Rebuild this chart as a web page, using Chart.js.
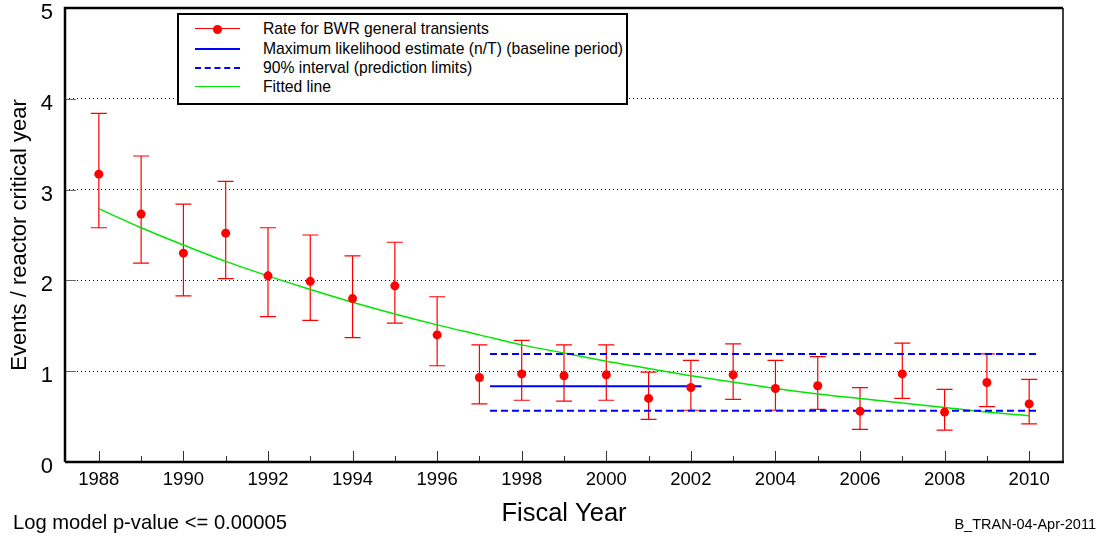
<!DOCTYPE html>
<html>
<head>
<meta charset="utf-8">
<script src="https://cdn.jsdelivr.net/npm/chart.js"></script>
<style>
  body { margin: 0; background: #fff; font-family: "Liberation Sans", Arial, sans-serif; }
  #wrap { position: relative; width: 1101px; height: 537px; }
  #legend { position: absolute; left: 177px; top: 13px; width: 447px; height: 88px; border: 2px solid #000; background: #fff; }
  .row { position: absolute; left: 0; height: 20px; width: 100%; }
  .row .txt { position: absolute; left: 84px; top: 0; line-height: 20px; font-size: 15.7px; color: #000; white-space: nowrap; }
  .row .smp { position: absolute; left: 16px; top: 9px; width: 45px; height: 0; }
  .dot { position: absolute; left: 18px; top: -4.5px; width: 9px; height: 9px; border-radius: 50%; background: #f00; }
  .note { position: absolute; color: #000; white-space: nowrap; }
</style>
</head>
<body>
<div id="wrap">
  <canvas id="myChart"></canvas>
  <div id="legend">
    <div class="row" style="top:4px"><div class="smp" style="border-top:1px solid #f00"><div class="dot"></div></div><div class="txt">Rate for BWR general transients</div></div>
    <div class="row" style="top:23.5px"><div class="smp" style="border-top:2px solid #00f"></div><div class="txt">Maximum likelihood estimate (n/T) (baseline period)</div></div>
    <div class="row" style="top:42.5px"><div class="smp" style="border-top:2px dashed #00f"></div><div class="txt">90% interval (prediction limits)</div></div>
    <div class="row" style="top:61.5px"><div class="smp" style="border-top:1.5px solid #00e600"></div><div class="txt">Fitted line</div></div>
  </div>
  <div class="note" style="left:13px;top:510px;font-size:20.2px;line-height:24px">Log model p-value &lt;= 0.00005</div>
  <div class="note" style="right:5px;top:515px;font-size:14.5px;line-height:18px">B_TRAN-04-Apr-2011</div>
</div>
<script>
// fiscal years and rates
const years = [1988, 1989, 1990, 1991, 1992, 1993, 1994, 1995, 1996, 1997, 1998, 1999,
  2000, 2001, 2002, 2003, 2004, 2005, 2006, 2007, 2008, 2009, 2010];
const rate = [3.17, 2.73, 2.30, 2.52, 2.05, 1.99, 1.80, 1.94, 1.40, 0.93, 0.97, 0.95,
  0.96, 0.70, 0.82, 0.96, 0.81, 0.84, 0.56, 0.97, 0.55, 0.875, 0.64];
const upper = [3.84, 3.37, 2.84, 3.09, 2.58, 2.50, 2.27, 2.42, 1.82, 1.29, 1.34, 1.29,
  1.29, 0.99, 1.12, 1.30, 1.12, 1.16, 0.82, 1.31, 0.80, 1.19, 0.91];
const lower = [2.58, 2.19, 1.83, 2.02, 1.60, 1.56, 1.37, 1.53, 1.06, 0.64, 0.68, 0.67,
  0.68, 0.47, 0.57, 0.69, 0.57, 0.58, 0.36, 0.70, 0.35, 0.61, 0.42];
const fitted = [2.79, 2.58, 2.39, 2.21, 2.05, 1.90, 1.76, 1.63, 1.51, 1.40, 1.29, 1.20,
  1.11, 1.03, 0.95, 0.88, 0.81, 0.75, 0.70, 0.65, 0.60, 0.55, 0.51];

// baseline period estimate and prediction limits
const baselineX = [1997.25, 2002.25];
const mle = 0.835;
const limitsX = [1997.25, 2010.25];
const limitUpper = 1.19;
const limitLower = 0.565;

const xTickLabels = [1988, 1990, 1992, 1994, 1996, 1998, 2000, 2002, 2004, 2006, 2008, 2010];
const yTickLabels = [0, 1, 2, 3, 4, 5];

const FONT = '"Liberation Sans", Arial, sans-serif';

function pairs(xs, ys) {
  return xs.map((x, i) => ({ x: x, y: ys[i] }));
}

// error bars under the points
const errorBars = {
  id: 'errorBars',
  beforeDatasetsDraw(chart) {
    const { ctx, scales: { x, y } } = chart;
    ctx.save();
    ctx.strokeStyle = '#ff0000';
    ctx.lineWidth = 1.2;
    years.forEach((yr, i) => {
      const px = x.getPixelForValue(yr);
      const top = y.getPixelForValue(upper[i]);
      const bot = y.getPixelForValue(lower[i]);
      ctx.beginPath();
      ctx.moveTo(px, top); ctx.lineTo(px, bot);
      ctx.moveTo(px - 8, top); ctx.lineTo(px + 8, top);
      ctx.moveTo(px - 8, bot); ctx.lineTo(px + 8, bot);
      ctx.stroke();
    });
    ctx.restore();
  }
};

// frame and inward tick marks
const frame = {
  id: 'frame',
  afterDraw(chart) {
    const { ctx, chartArea: a, scales: { x, y } } = chart;
    ctx.save();
    ctx.strokeStyle = '#333';
    ctx.lineWidth = 1;
    years.forEach(yr => {
      const px = Math.round(x.getPixelForValue(yr)) + 0.5;
      const len = yr % 2 === 0 ? 11 : 6;
      ctx.beginPath();
      ctx.moveTo(px, a.bottom); ctx.lineTo(px, a.bottom - len);
      ctx.stroke();
    });
    ctx.strokeStyle = '#666';
    yTickLabels.slice(1, -1).forEach(v => {
      const py = Math.round(y.getPixelForValue(v)) + 0.5;
      ctx.beginPath();
      ctx.moveTo(a.left, py); ctx.lineTo(a.left + 11, py);
      ctx.stroke();
    });
    ctx.strokeStyle = '#000';
    ctx.lineWidth = 2.5;
    ctx.beginPath();
    ctx.moveTo(a.left, a.bottom); ctx.lineTo(a.left, a.top); ctx.lineTo(a.right, a.top);
    ctx.moveTo(a.left, a.bottom); ctx.lineTo(a.right + 1, a.bottom);
    ctx.stroke();
    ctx.lineWidth = 1.5;
    ctx.beginPath();
    ctx.moveTo(a.right, a.top); ctx.lineTo(a.right, a.bottom);
    ctx.stroke();
    ctx.restore();
  }
};

const ctx = document.getElementById('myChart').getContext('2d');
const chart = new Chart(ctx, {
  type: 'line',
  data: {
    datasets: [
      {
        label: 'Rate for BWR general transients',
        data: pairs(years, rate),
        showLine: false,
        pointRadius: 4.5,
        pointBackgroundColor: '#ff0000',
        pointBorderWidth: 0
      },
      {
        label: 'Maximum likelihood estimate (n/T) (baseline period)',
        data: pairs(baselineX, [mle, mle]),
        borderColor: '#0000ff',
        borderWidth: 2,
        pointRadius: 0
      },
      {
        label: '90% interval (prediction limits)',
        data: pairs(limitsX, [limitUpper, limitUpper]),
        borderColor: '#0000ff',
        borderWidth: 2,
        borderDash: [7, 4],
        pointRadius: 0
      },
      {
        label: '90% interval lower',
        data: pairs(limitsX, [limitLower, limitLower]),
        borderColor: '#0000ff',
        borderWidth: 2,
        borderDash: [7, 4],
        pointRadius: 0
      },
      {
        label: 'Fitted line',
        data: pairs(years, fitted),
        borderColor: '#00e600',
        borderWidth: 1.5,
        pointRadius: 0,
        cubicInterpolationMode: 'monotone'
      }
    ]
  },
  options: {
    responsive: true,
    maintainAspectRatio: false,
    animation: false,
    devicePixelRatio: 1,
    layout: { padding: { top: 8, right: 38, left: 0, bottom: 0 } },
    plugins: {
      legend: { display: false },
      tooltip: { enabled: false }
    },
    scales: {
      x: {
        type: 'linear',
        min: 1987.2,
        max: 2010.8,
        afterBuildTicks: (scale) => { scale.ticks = xTickLabels.map(v => ({ value: v })); },
        afterFit: (scale) => { scale.height = 75; scale.paddingLeft = 0; scale.paddingRight = 0; },
        grid: { display: false, drawTicks: false },
        border: { display: false },
        ticks: {
          padding: 7,
          color: '#000',
          font: { family: FONT, size: 18.5 },
          callback: (v) => String(v)
        },
        title: {
          display: true,
          text: 'Fiscal Year',
          color: '#000',
          font: { family: FONT, size: 25.5 },
          padding: { top: 0, bottom: 8 }
        }
      },
      y: {
        min: 0,
        max: 5,
        afterBuildTicks: (scale) => { scale.ticks = yTickLabels.map(v => ({ value: v })); },
        afterFit: (scale) => { scale.width = 65; scale.paddingTop = 0; scale.paddingBottom = 0; },
        grid: {
          drawTicks: false,
          lineWidth: 1,
          color: (c) => (c.tick && (c.tick.value === 0 || c.tick.value === 5)) ? 'rgba(0,0,0,0)' : '#000'
        },
        border: { display: false, dash: [1, 3] },
        ticks: {
          padding: 12,
          labelOffset: 5,
          color: '#000',
          font: { family: FONT, size: 22 }
        },
        title: {
          display: true,
          text: 'Events / reactor critical year',
          color: '#000',
          font: { family: FONT, size: 22 },
          padding: { top: 7, bottom: 0 }
        }
      }
    }
  },
  plugins: [errorBars, frame]
});
</script>
</body>
</html>
